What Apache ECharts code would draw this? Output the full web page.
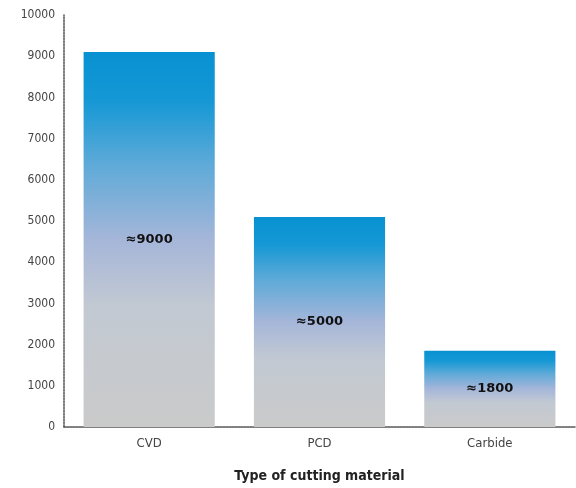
<!DOCTYPE html>
<html><head><meta charset="utf-8">
<script src="https://cdn.jsdelivr.net/npm/echarts@6/dist/echarts.min.js"></script>
<style>html,body{margin:0;padding:0;background:#fff}#c{width:576px;height:488px}</style>
</head><body><div id="c"></div>
<script>
const categories = ['CVD', 'PCD', 'Carbide'];
const values = [9100, 5100, 1850];
const labels = ['≈9000', '≈5000', '≈1800'];
const yTicks = [0, 1000, 2000, 3000, 4000, 5000, 6000, 7000, 8000, 9000, 10000];

const chart = echarts.init(document.getElementById('c'));
const grad = new echarts.graphic.LinearGradient(0, 0, 0, 1, [
  {offset: 0, color: '#0891d2'},
  {offset: 0.13, color: '#1598d5'},
  {offset: 0.3, color: '#5eaad8'},
  {offset: 0.5, color: '#a5b6d9'},
  {offset: 0.68, color: '#c2c9d2'},
  {offset: 1, color: '#cacaca'}
]);
chart.setOption({
  animation: false,
  grid: {left: 64, right: 1, top: 15, bottom: 60},
  xAxis: {
    type: 'category', data: categories,
    axisLine: {lineStyle: {color: '#555', type: [2, 1], width: 1.5}},
    axisTick: {show: false},
    axisLabel: {color: '#444', fontSize: 13, margin: 10, fontFamily: 'DejaVu Sans Condensed, sans-serif'},
    name: 'Type of cutting material', nameLocation: 'middle', nameGap: 42,
    nameTextStyle: {color: '#222', fontSize: 14, fontWeight: 'bold', fontFamily: 'DejaVu Sans Condensed, sans-serif'}
  },
  yAxis: {
    type: 'value', min: yTicks[0], max: yTicks[yTicks.length - 1], interval: 1000,
    axisLine: {show: true, lineStyle: {color: '#555', type: [2, 1], width: 1.5}},
    axisTick: {show: false},
    splitLine: {show: false},
    axisLabel: {color: '#444', fontSize: 12, margin: 9, formatter: v => String(v), fontFamily: 'DejaVu Sans Condensed, sans-serif'}
  },
  series: [{
    type: 'bar', data: values, barCategoryGap: '23%',
    itemStyle: {color: grad},
    label: {
      show: true, position: 'inside',
      formatter: p => labels[p.dataIndex],
      color: '#111', fontSize: 13, fontWeight: 'bold', fontFamily: 'DejaVu Sans, sans-serif'
    }
  }]
});
</script></body></html>
